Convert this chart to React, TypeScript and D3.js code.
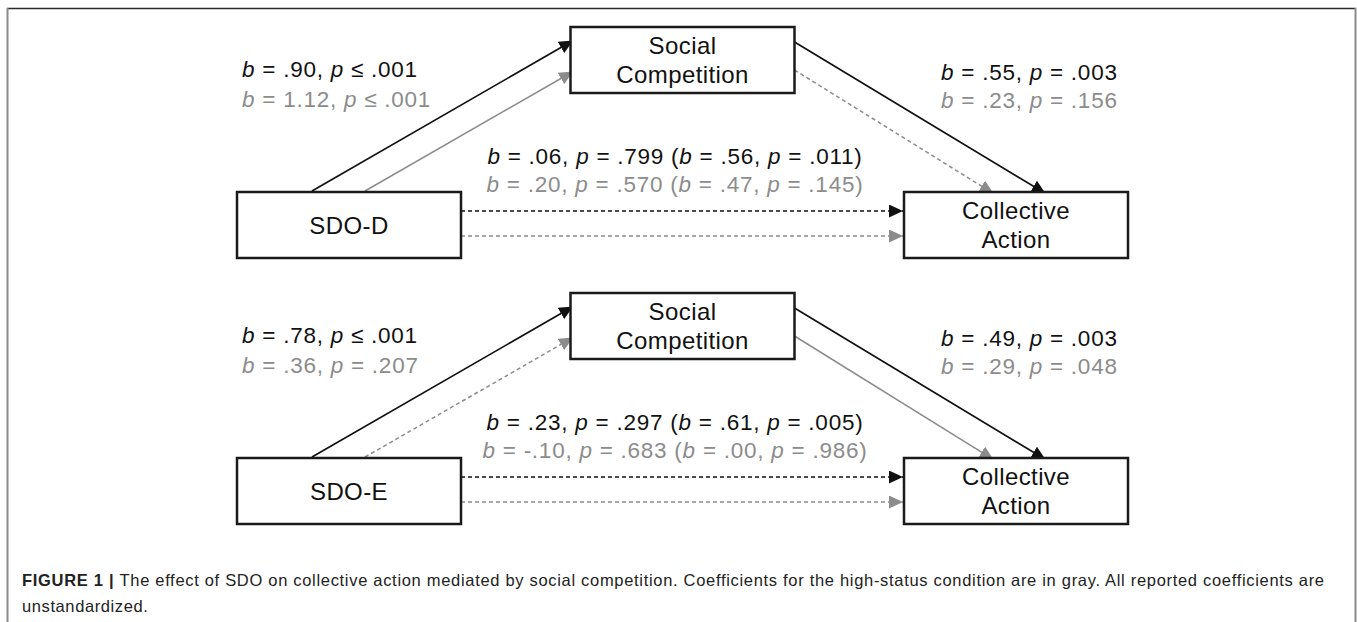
import React, { useEffect, useRef } from 'react';
import * as d3 from 'd3';

// one panel per SDO sub-dimension
const panels = ['SDO-D', 'SDO-E'];
const mediatorLines = ['Social', 'Competition'];
const outcomeLines = ['Collective', 'Action'];

// each pair: [low-status condition (black), high-status condition (gray)]
const aPathLabels = [
  ['b = .90, p ≤ .001', 'b = 1.12, p ≤ .001'],
  ['b = .78, p ≤ .001', 'b = .36, p = .207'],
];
const bPathLabels = [
  ['b = .55, p = .003', 'b = .23, p = .156'],
  ['b = .49, p = .003', 'b = .29, p = .048'],
];
const cPathLabels = [
  ['b = .06, p = .799 (b = .56, p = .011)', 'b = .20, p = .570 (b = .47, p = .145)'],
  ['b = .23, p = .297 (b = .61, p = .005)', 'b = -.10, p = .683 (b = .00, p = .986)'],
];
// solid = significant path, dashed = not significant
const aPathSolid = [[true, true], [true, false]];
const bPathSolid = [[true, false], [true, true]];
const cPathSolid = [[false, false], [false, false]];

const captionBold = 'FIGURE 1 | ';
const captionLines = [
  'The effect of SDO on collective action mediated by social competition. Coefficients for the high-status condition are in gray. All reported coefficients are',
  'unstandardized.',
];

const W = 1357;
const H = 622;
const BOX_W = 224;
const BOX_H = 66;
const COLORS = ['#111111', '#8c8c8c'];
const FONT = '"Liberation Sans", Arial, Helvetica, sans-serif';

export default function App() {
  const svgRef = useRef<SVGSVGElement>(null);

  useEffect(() => {
    if (!svgRef.current) return;
    const svg = d3.select(svgRef.current);
    svg.selectAll('*').remove();

    const xCol = d3.scalePoint<string>()
      .domain(['predictor', 'mediator', 'outcome'])
      .range([349, 1016]);
    const yPanel = d3.scalePoint<string>().domain(panels).range([0, 266]);
    const yLevel = d3.scalePoint<string>().domain(['mediator', 'base']).range([27, 192]);

    // arrowheads
    const defs = svg.append('defs');
    COLORS.forEach((c, i) => {
      defs.append('marker')
        .attr('id', `head${i}`)
        .attr('markerUnits', 'userSpaceOnUse')
        .attr('viewBox', '0 0 14 13')
        .attr('markerWidth', 14)
        .attr('markerHeight', 13)
        .attr('refX', 14)
        .attr('refY', 6.5)
        .attr('orient', 'auto')
        .append('path')
        .attr('d', 'M0,0 L14,6.5 L0,13 Z')
        .attr('fill', c);
    });

    // frame
    svg.append('line')
      .attr('x1', 7).attr('x2', 1356).attr('y1', 8.5).attr('y2', 8.5)
      .attr('stroke', '#2a2a2a').attr('stroke-width', 1.5);
    [7.5, 1355.5].forEach(x => {
      svg.append('line')
        .attr('x1', x).attr('x2', x).attr('y1', 8).attr('y2', H)
        .attr('stroke', '#8a8a8a').attr('stroke-width', 2);
    });

    const arrow = (g: any, x1: number, y1: number, x2: number, y2: number, k: number, solid: boolean, inset: number) => {
      const len = Math.hypot(x2 - x1, y2 - y1);
      const ex = x2 + ((x2 - x1) / len) * inset;
      const ey = y2 + ((y2 - y1) / len) * inset;
      g.append('line')
        .attr('x1', x1).attr('y1', y1).attr('x2', ex).attr('y2', ey)
        .attr('stroke', COLORS[k])
        .attr('stroke-width', k === 0 ? 1.7 : 1.5)
        .attr('stroke-dasharray', solid ? null : '4,3')
        .attr('marker-end', `url(#head${k})`);
    };

    const label = (g: any, text: string, x: number, y: number, k: number, anchor: string) => {
      const t = g.append('text')
        .attr('x', x).attr('y', y)
        .attr('fill', COLORS[k])
        .attr('font-family', FONT)
        .attr('font-size', 22.5)
        .attr('letter-spacing', 0.75)
        .attr('text-anchor', anchor);
      text.split(/(\bb\b|\bp\b)/).filter(s => s.length).forEach(s => {
        t.append('tspan')
          .attr('font-style', s === 'b' || s === 'p' ? 'italic' : null)
          .text(s);
      });
    };

    const box = (g: any, left: number, top: number, lines: string[]) => {
      g.append('rect')
        .attr('x', left).attr('y', top)
        .attr('width', BOX_W).attr('height', BOX_H)
        .attr('fill', '#fff')
        .attr('stroke', '#1a1a1a')
        .attr('stroke-width', 2.5);
      const cy = top + BOX_H / 2;
      const step = 29;
      lines.forEach((ln, i) => {
        g.append('text')
          .attr('x', left + BOX_W / 2)
          .attr('y', cy + (i - (lines.length - 1) / 2) * step + 8.5)
          .attr('text-anchor', 'middle')
          .attr('font-family', FONT)
          .attr('font-size', 24)
          .attr('letter-spacing', 0.4)
          .attr('fill', '#111')
          .text(ln);
      });
    };

    panels.forEach((name, pi) => {
      const g = svg.append('g').attr('transform', `translate(0,${yPanel(name)})`);
      const predL = xCol('predictor')! - BOX_W / 2;
      const medL = xCol('mediator')! - BOX_W / 2;
      const outL = xCol('outcome')! - BOX_W / 2;
      const medT = yLevel('mediator')!;
      const baseT = yLevel('base')!;

      [0, 1].forEach(k => {
        // a path: predictor -> mediator
        arrow(g, predL + [75, 128][k], baseT - 1, medL, medT + [15, 46][k], k, aPathSolid[pi][k], 3);
        // b path: mediator -> outcome
        arrow(g, medL + BOX_W, medT + [15, 43][k], outL + [139, 87][k], baseT, k, bPathSolid[pi][k], 3);
        // c path: direct effect
        const cy = baseT + [19, 44][k];
        arrow(g, predL + BOX_W, cy, outL - 1, cy, k, cPathSolid[pi][k], 0);

        label(g, aPathLabels[pi][k], predL + 5, medT + [50, 80][k], k, 'start');
        label(g, bPathLabels[pi][k], outL + 37, medT + [53, 81][k], k, 'start');
        label(g, cPathLabels[pi][k], predL + BOX_W + 214, baseT + [-28, 0][k], k, 'middle');
      });

      box(g, predL, baseT, [name]);
      box(g, medL, medT, mediatorLines);
      box(g, outL, baseT, outcomeLines);
    });

    // caption
    const cap = svg.append('g')
      .attr('font-family', FONT)
      .attr('font-size', 16.5)
      .attr('fill', '#222');
    captionLines.forEach((ln, i) => {
      const t = cap.append('text')
        .attr('x', 22)
        .attr('y', 586 + i * 26);
      if (i === 0) {
        t.append('tspan').attr('font-weight', 'bold').text(captionBold);
        t.attr('textLength', 1302).attr('lengthAdjust', 'spacing');
      } else {
        t.attr('letter-spacing', 0.6);
      }
      t.append('tspan').text(ln);
    });
  }, []);

  return (
    <div>
      <style>{'body{margin:0;}'}</style>
      <svg ref={svgRef} width={W} height={H} style={{ display: 'block', background: '#fff' }} />
    </div>
  );
}
